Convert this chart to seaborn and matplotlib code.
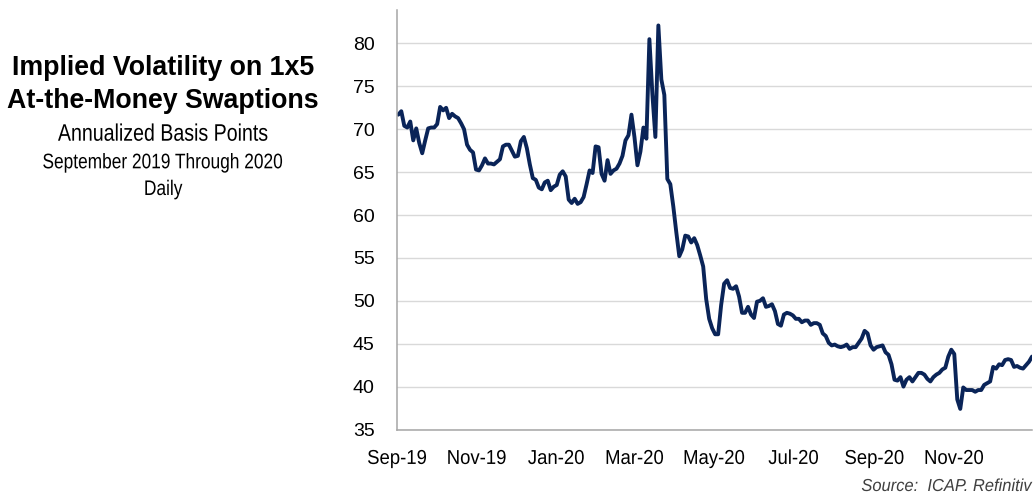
import matplotlib
matplotlib.use("Agg")
import matplotlib.pyplot as plt
import matplotlib.transforms as mtransforms
from matplotlib.patheffects import AbstractPathEffect
import numpy as np
import pandas as pd
import seaborn as sns

# Implied volatility, 1x5 ATM swaptions (annualized bp), Sep 2019 - Dec 2020
vol = [
    71.7, 72.1, 70.4, 70.2, 70.9, 68.7, 70.1, 68.4, 67.2, 68.7,
    70.1, 70.2, 70.2, 70.6, 72.6, 72.2, 72.5, 71.3, 71.8, 71.5,
    71.3, 70.7, 70.0, 68.2, 67.6, 67.3, 65.3, 65.2, 65.8, 66.6,
    66.0, 66.0, 65.9, 66.2, 66.5, 68.0, 68.2, 68.2, 67.5, 66.8,
    66.9, 68.6, 69.1, 67.8, 65.9, 64.3, 64.1, 63.2, 63.0, 63.8,
    64.0, 62.9, 63.3, 63.5, 64.7, 65.1, 64.5, 61.8, 61.4, 61.9,
    61.3, 61.5, 62.1, 63.6, 65.2, 64.9, 68.0, 67.9, 64.8, 64.0,
    66.4, 64.8, 65.2, 65.4, 66.0, 66.9, 68.7, 69.3, 71.7, 69.1,
    65.8, 67.4, 70.2, 68.9, 80.5, 74.1, 69.1, 82.1, 75.8, 74.0,
    64.2, 63.6, 61.0, 58.0, 55.2, 56.0, 57.6, 57.5, 56.8, 57.3,
    56.5, 55.3, 54.0, 50.2, 47.9, 46.8, 46.1, 46.1, 49.5, 52.0,
    52.4, 51.5, 51.4, 51.7, 50.5, 48.6, 48.6, 49.3, 48.4, 48.0,
    49.9, 50.0, 50.3, 49.3, 49.4, 49.6, 48.8, 47.3, 47.1, 48.4,
    48.6, 48.5, 48.3, 47.9, 47.9, 47.5, 47.7, 47.7, 47.2, 47.4,
    47.4, 47.2, 46.2, 45.9, 45.1, 44.8, 44.9, 44.7, 44.6, 44.7,
    44.9, 44.4, 44.6, 44.6, 45.1, 45.6, 46.5, 46.2, 44.8, 44.3,
    44.6, 44.7, 44.8, 44.0, 43.7, 42.6, 40.8, 40.7, 41.1, 40.0,
    40.8, 41.1, 40.6, 41.1, 41.6, 41.6, 41.4, 40.9, 40.6, 41.1,
    41.4, 41.6, 42.0, 42.2, 43.5, 44.3, 43.8, 38.5, 37.4, 39.9,
    39.6, 39.6, 39.6, 39.4, 39.6, 39.6, 40.2, 40.4, 40.6, 42.3,
    42.1, 42.6, 42.5, 43.1, 43.2, 43.1, 42.3, 42.4, 42.2, 42.1,
    42.5, 42.9, 43.5,
]
axis_start = pd.Timestamp("2019-09-01")
axis_end = pd.Timestamp("2020-12-31")
dates = pd.date_range("2019-09-02", axis_end, periods=len(vol))

tick_dates = ["2019-09-01", "2019-11-01", "2020-01-01", "2020-03-01",
              "2020-05-01", "2020-07-01", "2020-09-01", "2020-11-01"]
tick_labels = ["Sep-19", "Nov-19", "Jan-20", "Mar-20",
               "May-20", "Jul-20", "Sep-20", "Nov-20"]
y_ticks = [35, 40, 45, 50, 55, 60, 65, 70, 75, 80]

title_lines = ["Implied Volatility on 1x5", "At-the-Money Swaptions"]
subtitle_lines = ["Annualized Basis Points", "September 2019 Through 2020", "Daily"]
source_text = "Source:  ICAP. Refinitiv"


class Condensed(AbstractPathEffect):
    """Draw glyphs squeezed horizontally, like a narrow cut of the face."""

    def __init__(self, sx=0.82, anchor="center"):
        super().__init__()
        self.sx = sx
        self.anchor = anchor

    def draw_path(self, renderer, gc, tpath, affine, rgbFace=None):
        ext = tpath.get_extents()
        if self.anchor == "right":
            x0 = ext.x1
        elif self.anchor == "left":
            x0 = ext.x0
        else:
            x0 = 0.5 * (ext.x0 + ext.x1)
        squeeze = mtransforms.Affine2D().translate(-x0, 0).scale(self.sx, 1).translate(x0, 0)
        renderer.draw_path(gc, tpath, squeeze + affine, rgbFace)


sns.set_theme(style="white")
plt.rcParams["font.family"] = ["Liberation Sans", "DejaVu Sans"]

NAVY = "#0a2458"
GRID = "#d9d9d9"
AXIS = "#a6a6a6"

fig = plt.figure(figsize=(10.36, 4.95), dpi=100)
ax = fig.add_axes([397 / 1036, 1 - 429.5 / 495, 635 / 1036, 419.5 / 495])

df = pd.DataFrame({"date": dates, "vol": vol})
sns.lineplot(data=df, x="date", y="vol", ax=ax, color=NAVY, linewidth=2.8)

ax.set_xlim(axis_start, axis_end)
ax.set_ylim(35, 83.9)
ax.set_yticks(y_ticks)
ax.yaxis.grid(True, color=GRID, linewidth=1.0)
ax.xaxis.grid(False)
ax.set_axisbelow(True)
ax.set_xlabel("")
ax.set_ylabel("")

for side in ("top", "right"):
    ax.spines[side].set_visible(False)
for side in ("left", "bottom"):
    ax.spines[side].set_color(AXIS)
    ax.spines[side].set_linewidth(1.1)

ax.set_xticks(pd.to_datetime(tick_dates))
ax.set_xticklabels(tick_labels)
ax.tick_params(axis="both", length=0, colors="#000000")
ax.tick_params(axis="x", pad=14)
ax.tick_params(axis="y", pad=16)
for lbl in ax.get_xticklabels():
    lbl.set_fontsize(14.5)
    lbl.set_path_effects([Condensed(0.92)])
for lbl in ax.get_yticklabels():
    lbl.set_fontsize(14)

cx = 163 / 1036
for y, txt in zip((75, 108.3), title_lines):
    fig.text(cx, 1 - y / 495, txt, ha="center", va="baseline",
             fontsize=19.3, fontweight="bold", color="#000000")
for y, txt, fs in zip((140.7, 168.3, 195), subtitle_lines, (17.2, 15.2, 15.2)):
    fig.text(cx, 1 - y / 495, txt, ha="center", va="baseline", fontsize=fs,
             color="#000000", path_effects=[Condensed(0.82)])
fig.text(1032 / 1036, 1 - 491 / 495, source_text, ha="right", va="baseline",
         fontsize=12.5, style="italic", color="#404040",
         path_effects=[Condensed(0.95, anchor="right")])

fig.savefig("out.png", dpi=100)
